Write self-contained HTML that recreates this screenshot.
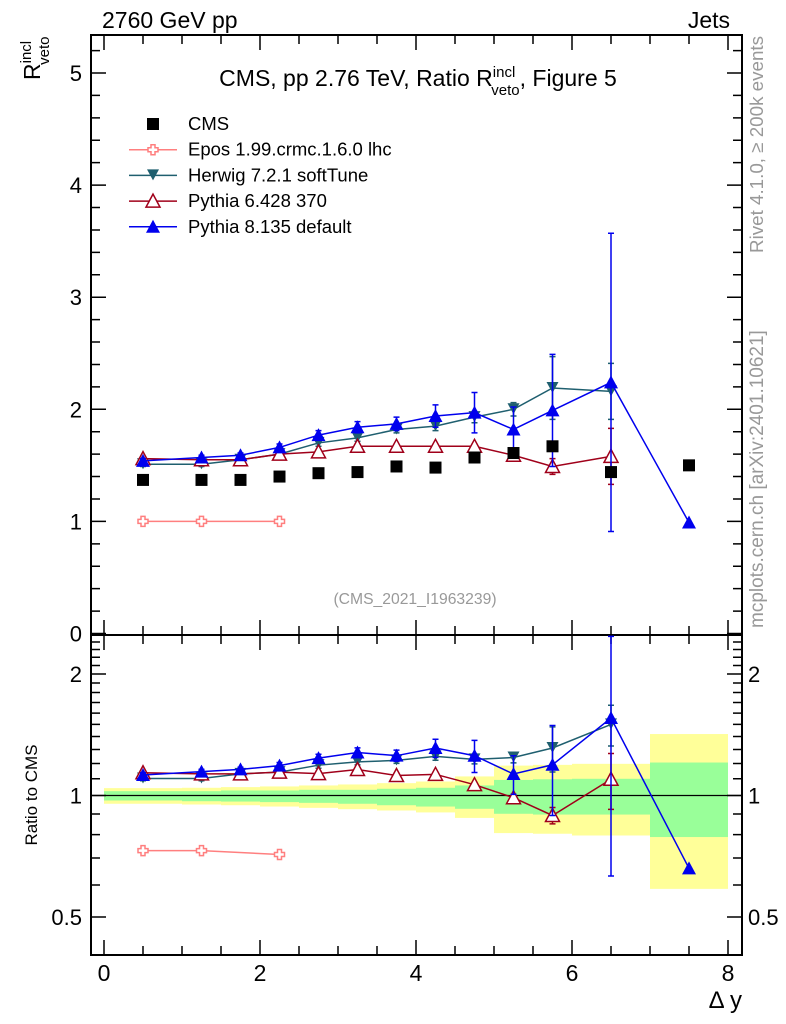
<!DOCTYPE html>
<html><head><meta charset="utf-8"><style>
html,body{margin:0;padding:0;background:#fff;}
svg{display:block;font-family:"Liberation Sans",sans-serif;}
</style></head><body>
<svg id="c" width="786" height="1024" viewBox="0 0 786 1024">
<g id="bands"></g>
<g id="axes"></g>
<g id="series"></g>
<text x="102" y="28" font-size="23">2760 GeV pp</text>
<text x="730" y="28" font-size="23" text-anchor="end">Jets</text>
<text x="418" y="86" font-size="23" text-anchor="middle">CMS, pp 2.76 TeV, Ratio R<tspan font-size="15" dy="-9">incl</tspan><tspan font-size="15" dx="-24" dy="18">veto</tspan><tspan dy="-9">, Figure 5</tspan></text>
<text transform="translate(40,80) rotate(-90)" font-size="23">R<tspan font-size="15" dy="-9">incl</tspan><tspan font-size="15" dx="-24" dy="18">veto</tspan></text>
<text transform="translate(37,795) rotate(-90)" font-size="17" text-anchor="middle">Ratio to CMS</text>
<text x="742" y="1008" font-size="24" text-anchor="end">Δ y</text>
<text transform="translate(763,253) rotate(-90)" font-size="18.8" fill="#999">Rivet 4.1.0, ≥ 200k events</text>
<text transform="translate(763,628) rotate(-90)" font-size="19" fill="#999">mcplots.cern.ch [arXiv:2401.10621]</text>
<text x="415" y="604" font-size="15.7" fill="#999" text-anchor="middle">(CMS_2021_I1963239)</text>
<g id="legend"></g>
</svg>
<script>
const xCenters=[0.5,1.25,1.75,2.25,2.75,3.25,3.75,4.25,4.75,5.25,5.75,6.5,7.5];
const binEdges=[0,1,1.5,2,2.5,3,3.5,4,4.5,5,5.5,6,7,8];
const cmsVals=[1.37,1.37,1.37,1.40,1.43,1.44,1.49,1.48,1.57,1.61,1.67,1.44,1.50];
const yellowHi=[1.043,1.045,1.049,1.053,1.059,1.065,1.073,1.083,1.115,1.186,1.191,1.198,1.42];
const yellowLo=[0.954,0.950,0.946,0.939,0.932,0.925,0.918,0.908,0.880,0.807,0.804,0.796,0.587];
const greenHi=[1.025,1.025,1.029,1.029,1.033,1.033,1.039,1.045,1.059,1.093,1.097,1.100,1.207];
const greenLo=[0.972,0.968,0.966,0.963,0.959,0.954,0.946,0.939,0.927,0.901,0.897,0.897,0.789];
const eposX=[0.5,1.25,2.25];
const eposVals=[1.0,1.0,1.0];
const herwigX=[0.5,1.25,1.75,2.25,2.75,3.25,3.75,4.25,4.75,5.25,5.75,6.5];
const herwigVals=[1.51,1.51,1.55,1.60,1.70,1.745,1.82,1.85,1.93,2.00,2.19,2.16];
const herwigErr=[0.02,0.02,0.02,0.02,0.03,0.03,0.03,0.04,0.05,0.06,0.28,0.25];
const py6X=[0.5,1.25,1.75,2.25,2.75,3.25,3.75,4.25,4.75,5.25,5.75,6.5];
const py6Vals=[1.56,1.55,1.55,1.60,1.62,1.67,1.67,1.67,1.67,1.59,1.49,1.58];
const py6Err=[0.01,0.01,0.01,0.01,0.01,0.01,0.01,0.01,0.02,0.03,0.07,0.25];
const py8X=[0.5,1.25,1.75,2.25,2.75,3.25,3.75,4.25,4.75,5.25,5.75,6.5,7.5];
const py8Vals=[1.54,1.57,1.59,1.66,1.77,1.84,1.87,1.94,1.97,1.82,1.99,2.24,0.99];
const py8Err=[0.02,0.02,0.02,0.03,0.04,0.05,0.06,0.1,0.18,0.2,0.5,1.33,0];
const mainTicks=[0,1,2,3,4,5];
const ratioTicks=[0.5,1,2];
const xTicks=[0,2,4,6,8];

const NS="http://www.w3.org/2000/svg";
const L=91,R=742,T=35,MID=635,B=955;
const X=v=>104+v*78;
const Y=v=>633.5-v*112.1;
const RY=r=>795.5-Math.log2(r)*121.5;
function mk(parent,tag,attrs){const e=document.createElementNS(NS,tag);for(const k in attrs)e.setAttribute(k,attrs[k]);document.getElementById(parent).appendChild(e);return e;}
const clamp=(v,a,b)=>Math.max(a,Math.min(b,v));

for(let i=0;i<cmsVals.length;i++){
  let e=mk('bands','rect',{x:X(binEdges[i]),y:RY(yellowHi[i]),width:X(binEdges[i+1])-X(binEdges[i]),height:RY(yellowLo[i])-RY(yellowHi[i]),fill:'#ffff99'});
  
  
  e=mk('bands','rect',{x:X(binEdges[i]),y:RY(greenHi[i]),width:X(binEdges[i+1])-X(binEdges[i]),height:RY(greenLo[i])-RY(greenHi[i]),fill:'#99ff99'});
  
  
}
let ln=mk('axes','line',{x1:L,x2:R,y1:RY(1),y2:RY(1),stroke:'#000','stroke-width':1.3});


let fr=mk('axes','path',{d:`M${L},${T}H${R}V${B}H${L}Z M${L},${MID}H${R}`,fill:'none',stroke:'#000','stroke-width':2});


let d='';
for(let v=0;v<=5.3;v+=0.2){const y=Y(v);if(y<T)continue;const maj=Math.abs(v-Math.round(v))<1e-6;const l=maj?15:9;d+=`M${L},${y}h${l}M${R},${y}h${-l}`;}
const rmin=[0.5,0.6,0.7,0.8,0.9,1,1.1,1.2,1.3,1.4,1.5,1.6,1.7,1.8,1.9,2,2.1,2.2,2.3,2.4];
rmin.forEach(r=>{const y=RY(r);const maj=ratioTicks.includes(r);const l=maj?15:9;d+=`M${L},${y}h${l}M${R},${y}h${-l}`;});
for(let v=0;v<=8;v+=0.5){const x=X(v);const maj=v%2===0;const l=maj?15:9;d+=`M${x},${MID}v${-l}M${x},${T}v${l}M${x},${B}v${-l}M${x},${MID}v${l}`;}
let tk=mk('axes','path',{d:d,stroke:'#000','stroke-width':1.5,fill:'none'});


mainTicks.forEach(v=>{const t=mk('axes','text',{x:82,y:Y(v)+8,'font-size':22,'text-anchor':'end'});t.textContent=v;

});
ratioTicks.forEach(v=>{let t=mk('axes','text',{x:82,y:RY(v)+8,'font-size':22,'text-anchor':'end'});t.textContent=v;


t=mk('axes','text',{x:748,y:RY(v)+8,'font-size':22});t.textContent=v;

});
xTicks.forEach(v=>{const t=mk('axes','text',{x:X(v),y:981,'font-size':23,'text-anchor':'middle'});t.textContent=v;

});

function marker(g,kind,x,y,col){
  let e;
  if(kind==='sq')e=mk(g,'rect',{x:x-6,y:y-6,width:12,height:12,fill:'#000'});
  else if(kind==='cross')e=mk(g,'path',{d:`M${x-2},${y-5}h4v3h3v4h-3v3h-4v-3h-3v-4h3z`,fill:'#fff',stroke:col,'stroke-width':1.5});
  else if(kind==='down')e=mk(g,'path',{d:`M${x-6},${y-6}h12l-6,11z`,fill:col});
  else if(kind==='up')e=mk(g,'path',{d:`M${x-7},${y+6}h14l-7,-13z`,fill:col});
  else e=mk(g,'path',{d:`M${x-7},${y+6}h14l-7,-13z`,fill:'#fff',stroke:col,'stroke-width':1.5});
  
  
}
function series(name,xs,vals,errs,col,kind){
  const g=mk('series','g',{});
  
  
  const gid='s'+name;g.id=gid;
  let p=mk(gid,'polyline',{points:xs.map((x,i)=>X(x)+','+Y(vals[i])).join(' '),fill:'none',stroke:col,'stroke-width':1.5});
  
  
  const ci=xs.map(x=>xCenters.indexOf(x));
  const rat=vals.map((v,i)=>v/cmsVals[ci[i]]);
  p=mk(gid,'polyline',{points:xs.map((x,i)=>X(x)+','+RY(rat[i])).join(' '),fill:'none',stroke:col,'stroke-width':1.5});
  
  
  if(errs){xs.forEach((x,i)=>{if(!errs[i])return;const c=cmsVals[ci[i]];
    const y1=clamp(Y(vals[i]+errs[i]),T,MID),y2=clamp(Y(vals[i]-errs[i]),T,MID);
    const r1=clamp(RY((vals[i]+errs[i])/c),MID,B),r2=clamp(RY(Math.max(vals[i]-errs[i],0.01)/c),MID,B);
    const e=mk(gid,'path',{d:`M${X(x)},${y1}V${y2}M${X(x)-3},${y1}h6M${X(x)-3},${y2}h6M${X(x)},${r1}V${r2}M${X(x)-3},${r1}h6M${X(x)-3},${r2}h6`,stroke:col,'stroke-width':1.5,fill:'none'});
    
    });}
  xs.forEach((x,i)=>{marker(gid,kind,X(x),Y(vals[i]),col);marker(gid,kind,X(x),RY(rat[i]),col);});
}
series('epos',eposX,eposVals,null,'#ff7f7f','cross');
series('herwig',herwigX,herwigVals,herwigErr,'#1f5f6f','down');
series('pythia6',py6X,py6Vals,py6Err,'#a0001a','open');
series('pythia8',py8X,py8Vals,py8Err,'#0000ee','up');
{const g=mk('series','g',{id:'scms'});


xCenters.forEach((x,i)=>marker('scms','sq',X(x),Y(cmsVals[i]),'#000'));}

const legNames=['CMS','Epos 1.99.crmc.1.6.0 lhc','Herwig 7.2.1 softTune','Pythia 6.428 370','Pythia 8.135 default'];
const legCols=['#000','#ff7f7f','#1f5f6f','#a0001a','#0000ee'];
const legKinds=['sq','cross','down','open','up'];
legNames.forEach((n,i)=>{const y=124+i*25.7;
  if(i>0){const l=mk('legend','line',{x1:129,x2:177,y1:y,y2:y,stroke:legCols[i],'stroke-width':1.5});
  
  }
  marker('legend',legKinds[i],153,y,legCols[i]);
  const t=mk('legend','text',{x:188,y:y+6,'font-size':18.5});t.textContent=n;
  
  
});
</script>
</body></html>
